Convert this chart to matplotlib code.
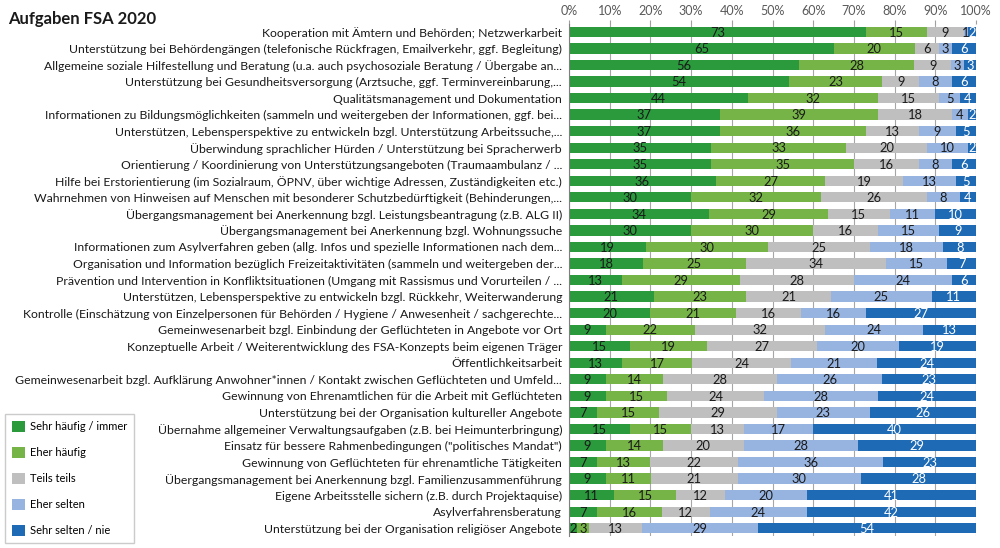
import numpy as np
import matplotlib.pyplot as plt
from matplotlib.patches import Patch

plt.rcParams['font.family'] = ['Lato', 'DejaVu Sans']

tasks = [
    "Kooperation mit Ämtern und Behörden; Netzwerkarbeit",
    "Unterstützung bei Behördengängen (telefonische Rückfragen, Emailverkehr, ggf. Begleitung)",
    "Allgemeine soziale Hilfestellung und Beratung (u.a. auch psychosoziale Beratung / Übergabe an...",
    "Unterstützung bei Gesundheitsversorgung (Arztsuche, ggf. Terminvereinbarung,...",
    "Qualitätsmanagement und Dokumentation",
    "Informationen zu Bildungsmöglichkeiten (sammeln und weitergeben der Informationen, ggf. bei...",
    "Unterstützen, Lebensperspektive zu entwickeln bzgl. Unterstützung Arbeitssuche,...",
    "Überwindung sprachlicher Hürden / Unterstützung bei Spracherwerb",
    "Orientierung / Koordinierung von Unterstützungsangeboten (Traumaambulanz / ...",
    "Hilfe bei Erstorientierung (im Sozialraum, ÖPNV, über wichtige Adressen, Zuständigkeiten etc.)",
    "Wahrnehmen von Hinweisen auf Menschen mit besonderer Schutzbedürftigkeit (Behinderungen,...",
    "Übergangsmanagement bei Anerkennung bzgl. Leistungsbeantragung (z.B. ALG II)",
    "Übergangsmanagement bei Anerkennung bzgl. Wohnungssuche",
    "Informationen zum Asylverfahren geben (allg. Infos und spezielle Informationen nach dem...",
    "Organisation und Information bezüglich Freizeitaktivitäten (sammeln und weitergeben der...",
    "Prävention und Intervention in Konfliktsituationen (Umgang mit Rassismus und Vorurteilen / ...",
    "Unterstützen, Lebensperspektive zu entwickeln bzgl. Rückkehr, Weiterwanderung",
    "Kontrolle (Einschätzung von Einzelpersonen für Behörden / Hygiene / Anwesenheit / sachgerechte...",
    "Gemeinwesenarbeit bzgl. Einbindung der Geflüchteten in Angebote vor Ort",
    "Konzeptuelle Arbeit / Weiterentwicklung des FSA-Konzepts beim eigenen Träger",
    "Öffentlichkeitsarbeit",
    "Gemeinwesenarbeit bzgl. Aufklärung Anwohner*innen / Kontakt zwischen Geflüchteten und Umfeld...",
    "Gewinnung von Ehrenamtlichen für die Arbeit mit Geflüchteten",
    "Unterstützung bei der Organisation kultureller Angebote",
    "Übernahme allgemeiner Verwaltungsaufgaben (z.B. bei Heimunterbringung)",
    "Einsatz für bessere Rahmenbedingungen (\"politisches Mandat\")",
    "Gewinnung von Geflüchteten für ehrenamtliche Tätigkeiten",
    "Übergangsmanagement bei Anerkennung bzgl. Familienzusammenführung",
    "Eigene Arbeitsstelle sichern (z.B. durch Projektaquise)",
    "Asylverfahrensberatung",
    "Unterstützung bei der Organisation religiöser Angebote",
]

sehr_haeufig = [73, 65, 56, 54, 44, 37, 37, 35, 35, 36, 30, 34, 30, 19, 18, 13,
                21, 20, 9, 15, 13, 9, 9, 7, 15, 9, 7, 9, 11, 7, 2]
eher_haeufig = [15, 20, 28, 23, 32, 39, 36, 33, 35, 27, 32, 29, 30, 30, 25, 29,
                23, 21, 22, 19, 17, 14, 15, 15, 15, 14, 13, 11, 15, 16, 3]
teils_teils = [9, 6, 9, 9, 15, 18, 13, 20, 16, 19, 26, 15, 16, 25, 34, 28,
               21, 16, 32, 27, 24, 28, 24, 29, 13, 20, 22, 21, 12, 12, 13]
eher_selten = [1, 3, 3, 8, 5, 4, 9, 10, 8, 13, 8, 11, 15, 18, 15, 24,
               25, 16, 24, 20, 21, 26, 28, 23, 17, 28, 36, 30, 20, 24, 29]
sehr_selten = [2, 6, 3, 6, 4, 2, 5, 2, 6, 5, 4, 10, 9, 8, 7, 6,
               11, 27, 13, 19, 24, 23, 24, 26, 40, 29, 23, 28, 41, 42, 54]

series = [sehr_haeufig, eher_haeufig, teils_teils, eher_selten, sehr_selten]
names = ["Sehr häufig / immer", "Eher häufig", "Teils teils", "Eher selten", "Sehr selten / nie"]
colors = ["#2a9a3c", "#76b447", "#bfbfbf", "#97b4e0", "#1f6ab4"]
text_colors = ["#1a1a1a", "#1a1a1a", "#1a1a1a", "#1a1a1a", "white"]

data = np.array(series, dtype=float)
shares = data / data.sum(axis=0)  # 100% stacked

fig = plt.figure(figsize=(10, 5.48), dpi=100)
ax = fig.add_axes([0.569, 0.021, 0.407, 0.936])

y = np.arange(len(tasks))
left = np.zeros(len(tasks))
for vals, pct, col, tcol in zip(data, shares, colors, text_colors):
    ax.barh(y, pct, left=left, height=0.62, color=col, zorder=2)
    for yi, (v, l, w) in enumerate(zip(vals, left, pct)):
        ax.text(l + w / 2, yi + 0.05, f"{int(v)}", ha='center', va='center',
                fontsize=9.3, color=tcol, zorder=3)
    left += pct

ax.set_ylim(len(tasks) - 0.5, -0.5)
ax.set_xlim(0, 1)
ax.set_yticks(y)
ax.set_yticklabels(tasks, fontsize=8.8, color='#1a1a1a')
ax.xaxis.tick_top()
ax.set_xticks(np.linspace(0, 1, 11))
ax.set_xticklabels([f"{i}%" for i in range(0, 101, 10)], fontsize=9, color='#595959')
ax.tick_params(axis='x', length=3, color='#a0a0a0', pad=2)
ax.tick_params(axis='y', length=0, pad=5)
ax.grid(axis='x', color='#a6a6a6', linewidth=0.8, zorder=1)
for s in ['top', 'right', 'bottom']:
    ax.spines[s].set_visible(False)
ax.spines['left'].set_color('#7f7f7f')

fig.text(0.008, 0.966, "Aufgaben FSA 2020", fontsize=12, fontweight='bold',
         ha='left', va='center', color='#1a1a1a')

handles = [Patch(facecolor=c, edgecolor='none') for c in colors]
fig.legend(handles, names, loc='lower left', bbox_to_anchor=(0.005, 0.009),
           fontsize=8, frameon=True, fancybox=False, edgecolor='#bfbfbf',
           labelspacing=1.32, handlelength=1.17, handleheight=1.17,
           handletextpad=0.5, borderpad=0.6, borderaxespad=0.0)

fig.savefig("out.png", dpi=100)
